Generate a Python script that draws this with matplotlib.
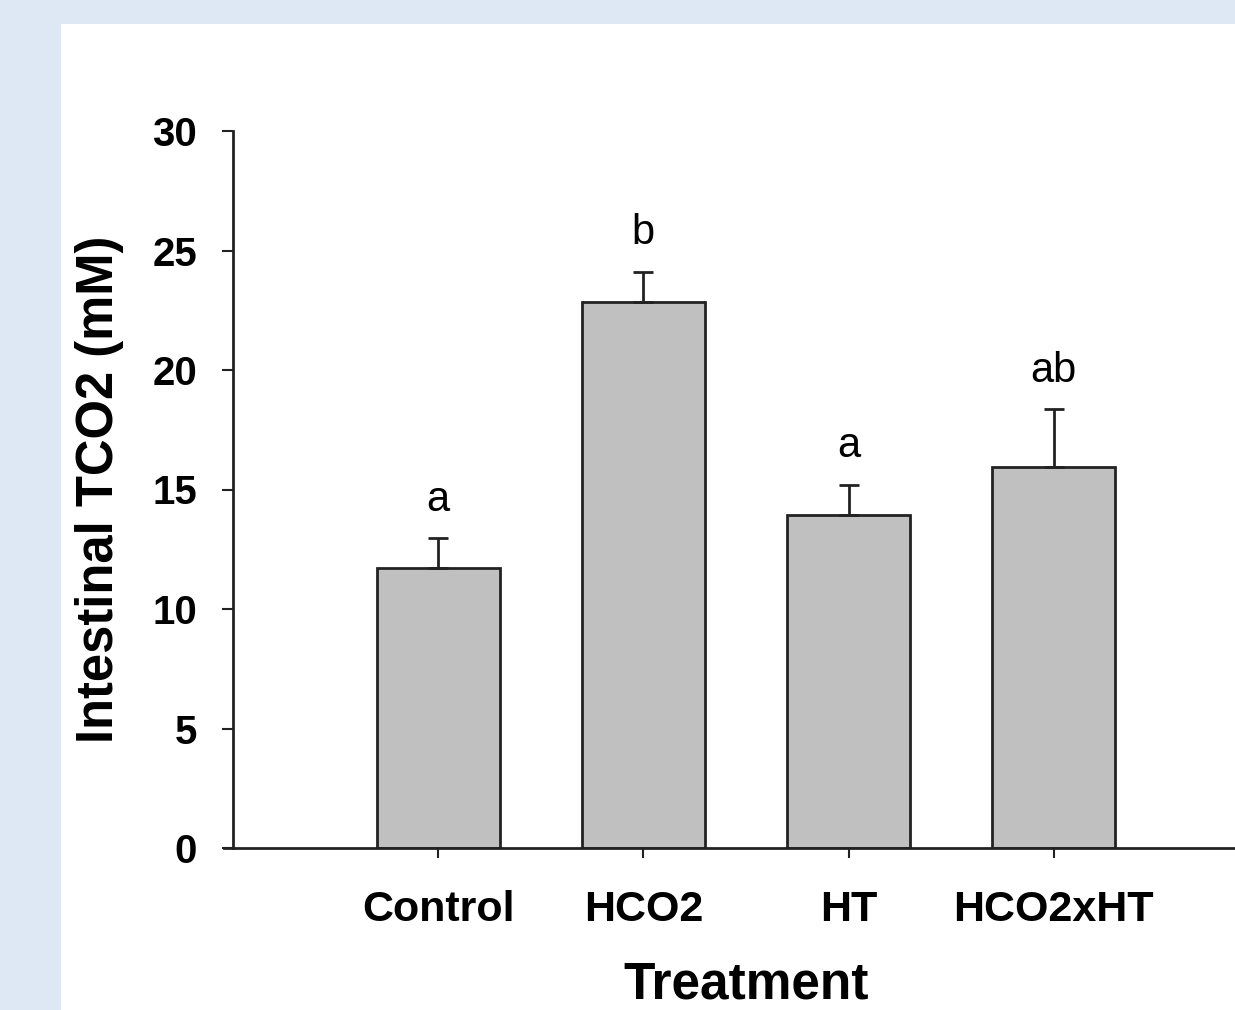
# Intestinal TCO2 by treatment (bar chart with SE bars)
import matplotlib
matplotlib.use("Agg")
import matplotlib.pyplot as plt
from matplotlib.patches import Rectangle

# Data
treatments = ["Control", "HCO2", "HT", "HCO2xHT"]
means = [11.7, 22.85, 13.95, 15.95]
errors = [1.25, 1.25, 1.25, 2.4]
letters = ["a", "b", "a", "ab"]
yticks = [0, 5, 10, 15, 20, 25, 30]

plt.rcParams["font.family"] = ["Liberation Sans", "DejaVu Sans"]

fig = plt.figure(figsize=(12.35, 10.10), dpi=100, facecolor="#dde8f4")
# white panel behind the chart
fig.patches.append(Rectangle((61 / 1235, 0), 1.0, (1010 - 24) / 1010,
                             transform=fig.transFigure, facecolor="white",
                             edgecolor="none", zorder=-10))

ax = fig.add_axes([233 / 1235, 162 / 1010, 1026 / 1235, 717 / 1010])
ax.set_facecolor("none")

x = range(len(treatments))
ax.bar(x, means, width=0.6, color="#c0c0c0", edgecolor="#222222", linewidth=2, zorder=2)
ax.errorbar(x, means, yerr=[[0] * len(errors), errors], fmt="none",
            ecolor="#222222", elinewidth=2, capsize=7, capthick=2, zorder=3)

# significance letters above the error bars
for i, (m, e, lab) in enumerate(zip(means, errors, letters)):
    ax.annotate(lab, (i, m + e), xytext=(0, 20), textcoords="offset points",
                ha="center", va="baseline", fontsize=30)

ax.set_xlim(-1.0, 4.0)
ax.set_ylim(0, 30)
ax.set_yticks(yticks)
ax.set_xticks(list(x))
ax.set_xticklabels(treatments)

for side in ["top", "right"]:
    ax.spines[side].set_visible(False)
for side in ["left", "bottom"]:
    ax.spines[side].set_linewidth(2)
    ax.spines[side].set_color("#222222")
ax.spines["bottom"].set_bounds(-1.045, 4.0)

ax.tick_params(axis="y", direction="out", length=8, width=1.5, pad=18,
               labelsize=29, color="#222222")
ax.tick_params(axis="x", direction="out", length=7, width=1.5, pad=23,
               labelsize=31, color="#222222")
for t in ax.get_xticklabels() + ax.get_yticklabels():
    t.set_fontweight("bold")

ax.set_xlabel("Treatment", fontsize=37, fontweight="bold", labelpad=22)
ax.set_ylabel("Intestinal TCO2 (mM)", fontsize=36.5, fontweight="bold", labelpad=20)

fig.savefig("out.png", dpi=100, facecolor=fig.get_facecolor())
